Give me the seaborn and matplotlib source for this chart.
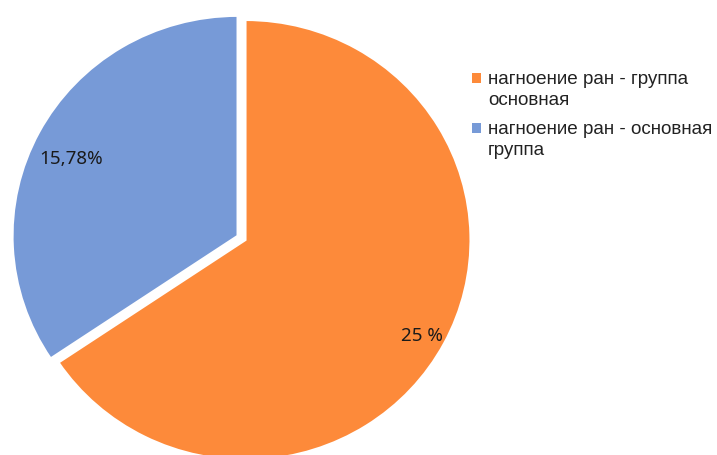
import numpy as np
import matplotlib
matplotlib.use("Agg")
import matplotlib.pyplot as plt
from matplotlib.patches import Rectangle
import seaborn as sns

sns.set_theme(style="white")
plt.rcParams['font.family'] = ['Liberation Sans', 'DejaVu Sans']

# Data
categories = ["нагноение ран - группа\nосновная", "нагноение ран - основная\nгруппа"]
slice_shares = [65.6, 34.4]          # angular share as drawn in the picture
value_labels = ["25 %", "15,78%"]
colors = ["#FD8A3A", "#779AD7"]

fig = plt.figure(figsize=(7.17, 4.55), dpi=100)
W, H = 717, 455
cx, cy, RX, RY = 245.5, 240, 225, 220
lim = 1.1
ax = fig.add_axes([(cx - lim * RX) / W, (H - cy - lim * RY) / H,
                   2 * lim * RX / W, 2 * lim * RY / H])

wedges, _ = ax.pie(slice_shares, colors=colors, startangle=90, counterclock=False,
                   explode=[0, 0.04], radius=1.0,
                   wedgeprops=dict(edgecolor="white", linewidth=1.5))
ax.set_xlim(-lim, lim)
ax.set_ylim(-lim, lim)
ax.set_aspect("auto")
ax.axis("off")

label_dist = [0.895, 0.82]
label_turn = [-1.0, 2.8]
for w, txt, d, t in zip(wedges, value_labels, label_dist, label_turn):
    ang = np.deg2rad((w.theta1 + w.theta2) / 2 + t)
    c = w.center
    ax.text(c[0] + d * np.cos(ang), c[1] + d * np.sin(ang), txt,
            ha="center", va="center", fontsize=13.5, color="#1a1a1a",
            family=["Noto Sans", "DejaVu Sans"])

# Legend (manual to keep marker aligned with first line)
ys = [78, 128]
for lab, col, y in zip(categories, colors, ys):
    fig.patches.append(Rectangle((472 / W, (H - y - 4.5) / H), 9 / W, 9 / H,
                                 transform=fig.transFigure, facecolor=col,
                                 edgecolor="none"))
    fig.text(488 / W, (H - y + 7.5) / H, lab, ha="left", va="top",
             fontsize=13.6, color="#222222", linespacing=1.33)

fig.savefig("out.png", dpi=100)
